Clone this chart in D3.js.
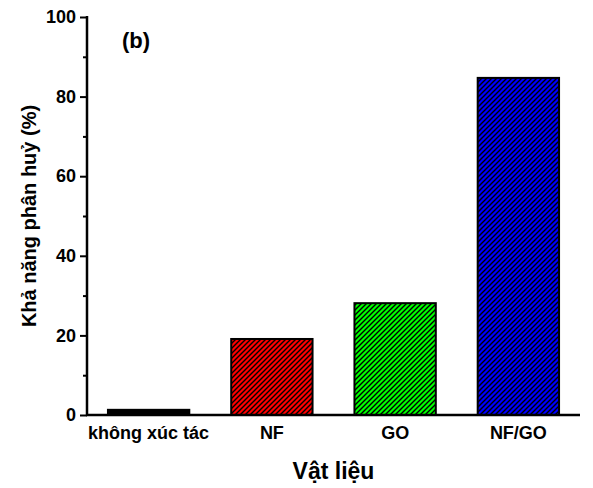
<!DOCTYPE html>
<html>
<head>
<meta charset="utf-8">
<script src="https://cdn.jsdelivr.net/npm/d3@7"></script>
<style>
  body { margin: 0; background: #fff; }
  svg { display: block; }
  text { font-family: Arial, "Liberation Sans", sans-serif; font-weight: bold; fill: #000; }
</style>
</head>
<body>
<svg id="chart" width="593" height="488"></svg>
<script>
const categories = ["không xúc tác", "NF", "GO", "NF/GO"];
const values = [1.3, 19.1, 28.1, 84.7];
const colors = ["#000000", "#ff0000", "#00ff00", "#0000ff"];
const majorTicks = [0, 20, 40, 60, 80, 100];
const minorTicks = [10, 30, 50, 70, 90];
const yTitle = "Khả năng phân huỷ (%)";
const xTitle = "Vật liệu";
const panelLabel = "(b)";

const svg = d3.select("#chart");
const mLeft = 87, mRight = 580, mTop = 17, mBottom = 415;

const x = d3.scaleBand().domain(categories).range([mLeft, mRight]).paddingInner(0.34).paddingOuter(0.17);
const y = d3.scaleLinear().domain([0, 100]).range([mBottom, mTop]);

const defs = svg.append("defs");
colors.forEach((c, i) => {
  const p = defs.append("pattern")
    .attr("id", "hatch" + i)
    .attr("patternUnits", "userSpaceOnUse")
    .attr("width", 5).attr("height", 5);
  p.append("rect").attr("width", 5).attr("height", 5).attr("fill", c);
  p.append("path").attr("d", "M-1,1 l2,-2 M0,5 l5,-5 M4,6 l2,-2")
    .attr("stroke", "#000").attr("stroke-width", 1.4);
});

svg.selectAll("rect.bar").data(categories).enter().append("rect")
  .attr("class", "bar")
  .attr("x", d => x(d))
  .attr("y", (d, i) => y(values[i]))
  .attr("width", x.bandwidth())
  .attr("height", (d, i) => y(0) - y(values[i]))
  .attr("fill", (d, i) => i === 0 ? "#000" : "url(#hatch" + i + ")")
  .attr("stroke", "#000")
  .attr("stroke-width", 2);

// Y axis
const yAxis = svg.append("g").attr("transform", `translate(${mLeft},0)`)
  .call(d3.axisLeft(y).tickValues(majorTicks).tickSize(7).tickPadding(4));
yAxis.select(".domain").remove();
yAxis.selectAll(".tick line").attr("stroke", "#000").attr("stroke-width", 2);
yAxis.selectAll(".tick text").style("font-size", "18px").style("font-family", "Arial, 'Liberation Sans', sans-serif").style("font-weight", "bold");

const yMinor = svg.append("g").attr("transform", `translate(${mLeft},0)`)
  .call(d3.axisLeft(y).tickValues(minorTicks).tickSize(4).tickFormat(""));
yMinor.select(".domain").remove();
yMinor.selectAll(".tick line").attr("stroke", "#000").attr("stroke-width", 2);

svg.append("line").attr("x1", mLeft).attr("x2", mLeft).attr("y1", mTop - 1).attr("y2", mBottom + 1)
  .attr("stroke", "#000").attr("stroke-width", 2.5);

// X axis
const xAxis = svg.append("g").attr("transform", `translate(0,${mBottom})`)
  .call(d3.axisBottom(x).tickSize(0).tickPadding(11));
xAxis.select(".domain").remove();
xAxis.selectAll(".tick text").style("font-size", "18px").style("font-family", "Arial, 'Liberation Sans', sans-serif").style("font-weight", "bold");
svg.append("line").attr("x1", mLeft - 1).attr("x2", mRight).attr("y1", mBottom).attr("y2", mBottom)
  .attr("stroke", "#000").attr("stroke-width", 2.5);

// Titles
svg.append("text").attr("x", (mLeft + mRight) / 2).attr("y", 479)
  .attr("text-anchor", "middle").style("font-size", "23px").text(xTitle);
svg.append("text").attr("transform", `translate(36,${(mTop + mBottom) / 2}) rotate(-90)`)
  .attr("text-anchor", "middle").style("font-size", "20px").text(yTitle);
svg.append("text").attr("x", 122).attr("y", 48).style("font-size", "22px").text(panelLabel);
</script>
</body>
</html>
